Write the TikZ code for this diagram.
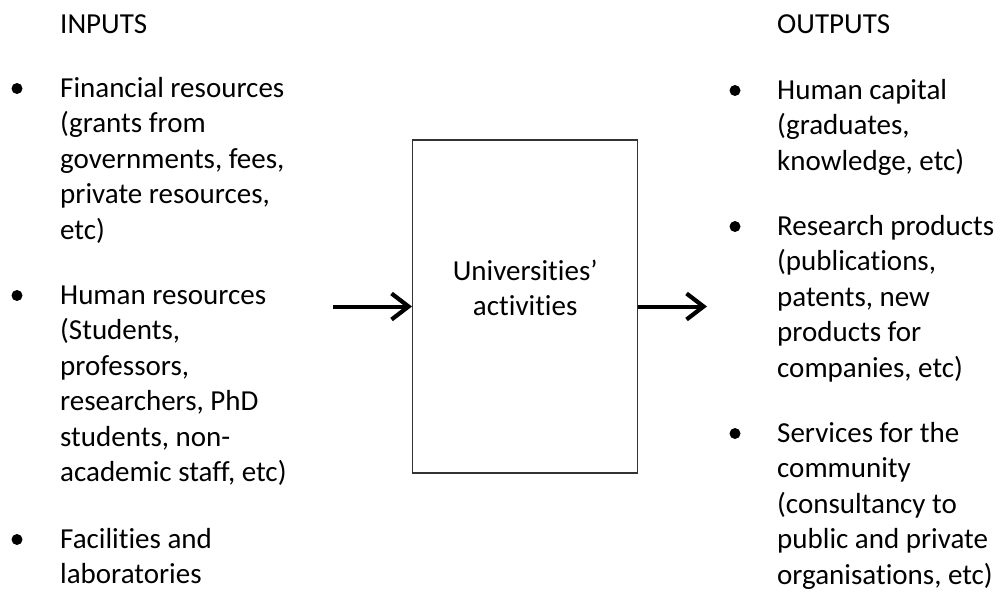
\documentclass[tikz,border=0pt]{standalone}
\usepackage{fontspec}
\setmainfont{Carlito}[Ligatures={NoCommon}]
\usetikzlibrary{arrows.meta}
\newcommand{\stack}[1]{\begin{tabular}[t]{@{}l@{}}#1\end{tabular}}
\newcommand{\cstack}[1]{\begin{tabular}[t]{@{}c@{}}#1\end{tabular}}
\begin{document}
\begin{tikzpicture}[x=1pt,y=1pt,
  txt/.style={anchor=base west, inner sep=0pt, font=\fontsize{29}{35.5}\selectfont},
  ctxt/.style={anchor=base, inner sep=0pt, font=\fontsize{29}{35.5}\selectfont},
  dot/.style={circle, fill=black, minimum size=11pt, inner sep=0pt},
  procbox/.style={draw=black!80, line width=1.4pt, minimum width=225pt, minimum height=333pt, inner sep=0pt},
  flow/.style={line width=4pt, -{Straight Barb[length=17pt,width=26pt,line width=4.2pt]}},
]
\useasboundingbox (0,0) rectangle (1004,-592);

% inputs column
\node[txt] (inhead) at (60,-33) {INPUTS};
\node[dot] (b1) at (17,-88.5) {};
\node[txt] (fin) at (60,-97) {\stack{Financial resources\\(grants from\\governments, fees,\\private resources,\\etc)}};
\node[dot] (b2) at (17,-295.5) {};
\node[txt] (hum) at (60,-304) {\stack{Human resources\\(Students,\\professors,\\researchers, PhD\\students, non-\\academic staff, etc)}};
\node[dot] (b3) at (17,-539.5) {};
\node[txt] (fac) at (60,-548) {\stack{Facilities and\\laboratories}};

% central process
\node[procbox] (box) at (525.2,-306.5) {};
\node[ctxt] (act) at (525.2,-280) {\cstack{Universities’\\activities}};

% outputs column
\node[txt] (outhead) at (777,-33) {OUTPUTS};
\node[dot] (c1) at (735,-90.5) {};
\node[txt] (cap) at (777,-99) {\stack{Human capital\\(graduates,\\knowledge, etc)}};
\node[dot] (c2) at (735,-226.5) {};
\node[txt] (res) at (777,-235) {\stack{Research products\\(publications,\\patents, new\\products for\\companies, etc)}};
\node[dot] (c3) at (735,-433.5) {};
\node[txt] (srv) at (777,-442) {\stack{Services for the\\community\\(consultancy to\\public and private\\organisations, etc)}};

% flow arrows
\coordinate (inL) at (333,-306.5);
\coordinate (outR) at (707,-306.5);
\draw[flow] (inL) -- (box.west);
\draw[flow] (box.east) -- (outR);
\end{tikzpicture}
\end{document}
